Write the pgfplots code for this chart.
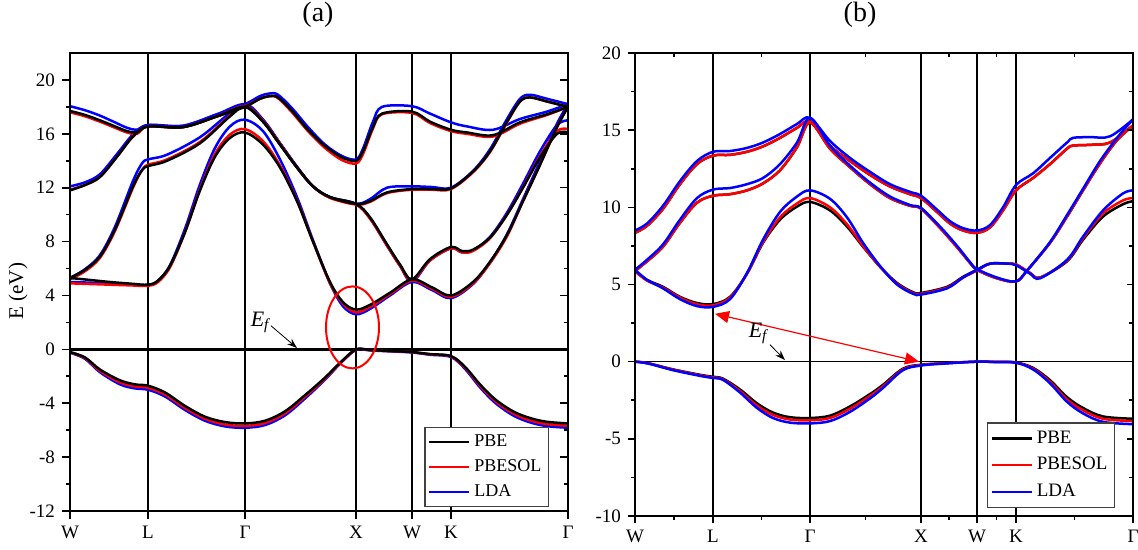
\documentclass[border=0pt]{standalone}
\usepackage{fontspec}
\setmainfont{Liberation Serif}
\usepackage{pgfplots}
\usepackage{pgfplotstable}
\pgfplotsset{compat=1.18}
\usetikzlibrary{arrows.meta}

% ---------- band structure (a): k along W-L-G-X-W-K-G, energies in eV ----------
\pgfplotstableread{
k pbe sol lda
0 -0.20 -0.22 -0.25
15 -0.60 -0.65 -0.70
30 -1.50 -1.60 -1.70
50 -2.30 -2.45 -2.60
65 -2.60 -2.75 -2.90
78 -2.70 -2.85 -3.00
95 -3.20 -3.35 -3.50
115 -4.20 -4.35 -4.50
135 -5.00 -5.15 -5.30
155 -5.40 -5.58 -5.72
175 -5.50 -5.68 -5.82
195 -5.30 -5.47 -5.62
215 -4.60 -4.75 -4.90
235 -3.40 -3.52 -3.65
255 -2.10 -2.18 -2.25
270 -1.00 -1.04 -1.08
286 0.00 -0.02 -0.04
300 -0.05 -0.06 -0.08
320 -0.12 -0.13 -0.15
342 -0.20 -0.21 -0.23
360 -0.35 -0.37 -0.40
381 -0.50 -0.53 -0.57
395 -1.30 -1.36 -1.45
410 -2.60 -2.70 -2.82
425 -3.70 -3.82 -3.96
443 -4.60 -4.75 -4.90
460 -5.10 -5.27 -5.42
477 -5.38 -5.55 -5.70
498 -5.50 -5.67 -5.82
}\bandAa

\pgfplotstableread{
k pbe sol lda
0 5.30 4.90 5.00
20 5.15 4.85 4.95
40 5.00 4.80 4.88
60 4.88 4.75 4.82
78 4.80 4.72 4.78
88 5.10 5.00 5.10
100 6.20 6.10 6.25
115 8.70 8.70 8.95
130 11.80 11.90 12.25
145 14.30 14.50 14.95
160 15.70 15.95 16.55
175 16.10 16.35 17.05
193 15.20 15.45 16.20
210 13.50 13.65 14.10
227 11.00 11.05 11.30
243 8.00 8.00 8.10
260 5.00 4.90 4.90
273 3.50 3.40 3.20
286 2.95 2.75 2.60
300 3.30 3.15 3.00
320 4.20 4.10 4.00
342 5.20 5.10 5.00
362 4.60 4.50 4.40
381 4.00 3.90 3.80
403 5.00 4.90 4.85
420 6.50 6.40 6.45
437 8.50 8.40 8.55
453 11.00 11.00 11.15
470 13.70 13.70 13.95
487 16.50 16.50 16.75
498 18.00 18.00 18.20
}\bandAb

\pgfplotstableread{
k pbe sol lda
0 5.30 5.20 5.30
15 5.90 5.80 5.95
30 6.90 6.80 7.00
45 8.90 8.80 9.10
63 12.10 12.00 12.50
72 13.30 13.30 13.80
78 13.60 13.70 14.10
97 14.00 14.10 14.45
130 15.30 15.40 15.75
160 17.30 17.35 17.55
175 18.00 18.05 18.15
193 16.90 16.95 17.05
210 15.20 15.25 15.30
227 13.50 13.50 13.55
243 12.10 12.10 12.10
260 11.30 11.25 11.30
286 10.80 10.75 10.80
300 9.80 9.70 9.75
317 7.80 7.70 7.70
330 6.30 6.20 6.20
342 5.20 5.10 5.00
360 6.70 6.60 6.60
381 7.60 7.50 7.50
392 7.30 7.20 7.20
403 7.40 7.30 7.35
420 8.30 8.25 8.35
437 10.00 10.00 10.15
453 12.00 12.05 12.30
470 14.25 14.35 14.70
487 16.00 16.20 16.65
498 16.10 16.35 17.00
}\bandAc

\pgfplotstableread{
k pbe sol lda
0 11.80 11.85 12.10
15 12.20 12.20 12.40
30 12.80 12.80 13.00
47 14.30 14.30 14.50
63 15.80 15.80 15.95
78 16.55 16.55 16.65
113 16.50 16.50 16.60
147 17.30 17.30 17.45
175 18.00 18.05 18.20
190 18.60 18.60 18.80
200 18.80 18.80 19.00
208 18.70 18.65 18.90
222 17.70 17.60 17.90
238 16.30 16.20 16.50
255 15.10 14.95 15.20
272 14.25 14.05 14.35
286 14.00 13.80 14.10
293 14.70 14.50 14.90
303 16.50 16.40 16.90
312 17.50 17.45 18.00
342 17.65 17.55 18.05
360 16.90 16.80 17.50
381 16.30 16.20 16.85
397 16.10 16.00 16.55
423 15.90 15.80 16.30
450 16.85 16.75 17.10
477 17.45 17.40 17.65
498 18.00 18.00 18.20
}\bandAd

\pgfplotstableread{
k pbe sol lda
0 17.70 17.60 18.05
15 17.40 17.30 17.75
30 17.00 16.90 17.35
45 16.55 16.45 16.85
57 16.20 16.10 16.45
67 16.10 16.00 16.30
78 16.55 16.55 16.65
113 16.50 16.50 16.60
147 17.30 17.30 17.45
175 18.00 18.05 18.20
193 16.90 16.95 17.05
210 15.20 15.25 15.30
227 13.50 13.50 13.55
243 12.10 12.10 12.10
260 11.30 11.25 11.30
286 10.80 10.75 10.80
300 11.00 10.95 11.15
317 11.65 11.60 12.00
342 11.90 11.85 12.10
362 11.90 11.85 12.05
381 11.95 11.90 12.00
403 13.20 13.15 13.25
420 14.70 14.65 14.85
437 16.90 16.85 17.10
450 18.40 18.40 18.60
460 18.70 18.70 18.90
477 18.40 18.40 18.60
498 18.00 18.00 18.20
}\bandAe

% ---------- band structure (b) ----------
\pgfplotstableread{
k pbe sol lda
0 0.00 0.00 0.00
13 -0.10 -0.10 -0.12
38 -0.50 -0.52 -0.55
65 -0.85 -0.88 -0.92
78 -0.98 -1.02 -1.06
88 -1.10 -1.14 -1.18
105 -1.80 -1.90 -2.00
122 -2.70 -2.85 -3.00
138 -3.30 -3.45 -3.65
155 -3.60 -3.75 -3.95
175 -3.65 -3.80 -4.00
195 -3.50 -3.65 -3.85
215 -2.90 -3.05 -3.25
235 -2.10 -2.22 -2.38
248 -1.50 -1.60 -1.70
268 -0.45 -0.50 -0.55
286 -0.20 -0.22 -0.25
310 -0.10 -0.10 -0.12
342 0.00 0.00 0.00
362 -0.02 -0.02 -0.03
381 -0.05 -0.06 -0.07
398 -0.40 -0.45 -0.50
415 -1.20 -1.30 -1.40
432 -2.30 -2.45 -2.60
448 -3.00 -3.15 -3.35
468 -3.55 -3.70 -3.90
498 -3.70 -3.85 -4.05
}\bandBa

\pgfplotstableread{
k pbe sol lda
0 8.35 8.35 8.50
12 8.80 8.80 8.95
28 9.90 9.90 10.10
45 11.50 11.50 11.70
62 12.80 12.80 13.00
78 13.35 13.35 13.60
95 13.40 13.40 13.65
112 13.60 13.60 13.85
128 13.95 13.95 14.20
145 14.50 14.50 14.75
162 15.15 15.15 15.40
175 15.55 15.55 15.80
195 14.00 14.00 14.30
215 13.00 13.00 13.20
235 12.10 12.10 12.30
255 11.35 11.35 11.50
275 10.85 10.85 11.00
286 10.60 10.60 10.75
302 9.70 9.70 9.85
315 8.95 8.95 9.10
328 8.50 8.50 8.65
342 8.35 8.35 8.50
355 8.70 8.70 8.85
368 9.80 9.80 10.00
381 11.10 11.10 11.45
398 11.90 11.90 12.20
415 12.80 12.80 13.20
432 13.80 13.80 14.20
438 14.00 14.00 14.50
455 14.05 14.05 14.55
475 14.20 14.20 14.60
498 15.30 15.30 15.70
}\bandBb

\pgfplotstableread{
k pbe sol lda
0 5.90 5.85 5.95
12 6.50 6.50 6.60
28 7.45 7.45 7.60
45 9.00 9.00 9.20
62 10.30 10.30 10.60
78 10.75 10.75 11.15
95 10.85 10.85 11.25
112 11.10 11.10 11.50
128 11.55 11.55 11.90
145 12.40 12.40 12.80
162 13.90 13.90 14.20
175 15.50 15.50 15.80
195 13.80 13.80 14.00
215 12.60 12.60 12.70
235 11.50 11.50 11.60
255 10.60 10.60 10.70
275 10.10 10.10 10.15
286 9.95 9.90 9.95
305 8.70 8.65 8.75
322 7.45 7.40 7.50
335 6.40 6.40 6.45
342 5.95 5.95 6.00
362 5.40 5.40 5.45
381 5.20 5.20 5.20
392 5.90 5.90 5.90
415 7.70 7.70 7.75
432 9.40 9.40 9.50
448 11.10 11.10 11.20
465 12.85 12.85 13.00
482 14.35 14.35 14.50
498 15.30 15.30 15.70
}\bandBc

\pgfplotstableread{
k pbe sol lda
0 5.90 5.85 5.95
12 5.30 5.25 5.30
28 4.85 4.80 4.75
45 4.20 4.15 4.05
62 3.80 3.72 3.60
78 3.73 3.65 3.55
95 4.20 4.15 4.05
112 5.70 5.70 5.75
128 7.70 7.75 7.90
145 9.20 9.35 9.70
162 10.05 10.25 10.70
175 10.35 10.60 11.10
195 9.80 10.00 10.55
212 8.75 8.90 9.35
228 7.45 7.50 7.70
245 6.15 6.15 6.20
262 5.10 5.05 5.00
278 4.50 4.45 4.40
286 4.45 4.40 4.35
312 4.85 4.80 4.75
328 5.50 5.45 5.45
342 5.95 5.90 5.95
355 6.35 6.35 6.35
372 6.35 6.35 6.35
381 6.30 6.30 6.25
395 5.75 5.75 5.70
405 5.45 5.45 5.40
432 6.50 6.55 6.60
448 7.90 8.00 8.10
468 9.40 9.60 9.80
488 10.20 10.45 10.90
498 10.40 10.60 11.10
}\bandBd

\pgfplotsset{
  band/.style={smooth, tension=0.55, line width=1.25pt, no markers},
  kpath/.style={
    scale only axis, width=249pt,
    xmin=0, xmax=498,
    xtick={0,78,175,286,342,381,498},
    xticklabels={W,L,Γ,X,W,K,Γ},
    xmajorgrids,
    major grid style={black, line width=0.8pt},
    axis line style={line width=0.8pt},
    every tick/.style={black, line width=0.8pt},
    tick label style={font=\fontsize{9.5}{11}\selectfont},
    legend cell align=left,
    legend image code/.code={\draw[##1, line width=1.25pt] (0pt,0pt) -- (20pt,0pt);},
  },
}

\begin{document}
\begin{tikzpicture}
\useasboundingbox (0,0) rectangle (569pt,275pt);

% ================= panel (a) =================
% LDA and PBEsol first, PBE on top
\begin{axis}[kpath,
  at={(35pt,19.5pt)}, anchor=south west, height=229pt,
  ymin=-12, ymax=22,
  ytick={-12,-8,-4,0,4,8,12,16,20},
  yticklabels={-12,-8,-4,0,4,8,12,16,20},
  minor y tick num=1,
  xtick pos=bottom, ytick pos=left, tick align=outside,
  major tick length=4pt, minor tick length=2pt,
  ylabel={E (eV)},
  ylabel style={at={(rel axis cs:-0.1044,0.48)}, anchor=center, font=\fontsize{10.5}{12}\selectfont},
  reverse legend,
  legend style={at={(rel axis cs:0.962,0.009)}, anchor=south east,
    draw=black!75, line width=0.6pt, font=\fontsize{9}{10.5}\selectfont,
    inner xsep=1.5pt, inner ysep=1.5pt, row sep=1pt},
]
\addplot[black, line width=1.5pt, forget plot] coordinates {(0,0) (498,0)};
\addplot[band, blue] table[x=k, y=lda] {\bandAa};
\addlegendentry{LDA}
\addplot[band, blue, forget plot] table[x=k, y=lda] {\bandAb};
\addplot[band, blue, forget plot] table[x=k, y=lda] {\bandAc};
\addplot[band, blue, forget plot] table[x=k, y=lda] {\bandAd};
\addplot[band, blue, forget plot] table[x=k, y=lda] {\bandAe};
\addplot[band, red] table[x=k, y=sol] {\bandAa};
\addlegendentry{PBESOL}
\addplot[band, red, forget plot] table[x=k, y=sol] {\bandAb};
\addplot[band, red, forget plot] table[x=k, y=sol] {\bandAc};
\addplot[band, red, forget plot] table[x=k, y=sol] {\bandAd};
\addplot[band, red, forget plot] table[x=k, y=sol] {\bandAe};
\addplot[band, black] table[x=k, y=pbe] {\bandAa};
\addlegendentry{PBE}
\addplot[band, black, forget plot] table[x=k, y=pbe] {\bandAb};
\addplot[band, black, forget plot] table[x=k, y=pbe] {\bandAc};
\addplot[band, black, forget plot] table[x=k, y=pbe] {\bandAd};
\addplot[band, black, forget plot] table[x=k, y=pbe] {\bandAe};
% Fermi level marker and the gap at X
\node[font=\fontsize{11}{13}\selectfont] at (axis cs:191,2.0) {\textit{E}\textsubscript{\textit{f}}};
\draw[-{Stealth[length=5pt,width=3.5pt]}, line width=0.4pt] (axis cs:201,1.75) -- (axis cs:227,0.1);
\draw[red, line width=1pt] (axis cs:282.5,1.63) ellipse [x radius=13.25pt, y radius=20.5pt];
\end{axis}
% inward ticks on the right edge of (a)
\begin{axis}[kpath,
  at={(35pt,19.5pt)}, anchor=south west, height=229pt,
  ymin=-12, ymax=22, xmajorgrids=false,
  xtick=\empty, ytick={-12,-8,...,20}, yticklabels={},
  minor y tick num=1, ytick pos=right, tick align=inside,
  major tick length=4pt, minor tick length=2pt,
]
\end{axis}

% ================= panel (b) =================
\begin{axis}[kpath,
  at={(317.5pt,17pt)}, anchor=south west, height=231.5pt,
  ymin=-10, ymax=20,
  ytick={-10,-5,0,5,10,15,20},
  yticklabels={-10,-5,0,5,10,15,20},
  minor y tick num=1,
  minor xtick={39,126.5,230.5,314,361.5,439.5},
  xtick pos=bottom, ytick pos=left, tick align=outside,
  major tick length=3.5pt, minor tick length=2pt,
  legend style={at={(rel axis cs:0.964,0.017)}, anchor=south east,
    draw=black!75, line width=0.6pt, font=\fontsize{9.5}{11.5}\selectfont,
    inner xsep=1.5pt, inner ysep=2pt, row sep=1.5pt},
]
\addplot[black, line width=0.5pt, forget plot] coordinates {(0,0) (498,0)};
\addplot[band, black] table[x=k, y=pbe] {\bandBa};
\addlegendentry{PBE}
\addplot[band, black, forget plot] table[x=k, y=pbe] {\bandBb};
\addplot[band, black, forget plot] table[x=k, y=pbe] {\bandBc};
\addplot[band, black, forget plot] table[x=k, y=pbe] {\bandBd};
\addplot[band, red] table[x=k, y=sol] {\bandBa};
\addlegendentry{PBESOL}
\addplot[band, red, forget plot] table[x=k, y=sol] {\bandBb};
\addplot[band, red, forget plot] table[x=k, y=sol] {\bandBc};
\addplot[band, red, forget plot] table[x=k, y=sol] {\bandBd};
\addplot[band, blue] table[x=k, y=lda] {\bandBa};
\addlegendentry{LDA}
\addplot[band, blue, forget plot] table[x=k, y=lda] {\bandBb};
\addplot[band, blue, forget plot] table[x=k, y=lda] {\bandBc};
\addplot[band, blue, forget plot] table[x=k, y=lda] {\bandBd};
% indirect gap L -> X and Fermi level
\draw[red, line width=0.6pt, {Triangle[length=7pt,width=6pt]}-{Triangle[length=7pt,width=6pt]}]
  (axis cs:80,3.1) -- (axis cs:284,0.0);
\node[font=\fontsize{11}{13}\selectfont] at (axis cs:124,1.85) {\textit{E}\textsubscript{\textit{f}}};
\draw[-{Stealth[length=5pt,width=3.5pt]}, line width=0.4pt] (axis cs:135,1.1) -- (axis cs:150,0.1);
\end{axis}
% inward ticks on the top and right edges of (b)
\begin{axis}[kpath,
  at={(317.5pt,17pt)}, anchor=south west, height=231.5pt,
  ymin=-10, ymax=20, xmajorgrids=false,
  xtick={0,78,175,286,342,381,498}, xticklabels={},
  minor xtick={39,126.5,230.5,314,361.5,439.5},
  ytick={-10,-5,...,20}, yticklabels={},
  minor y tick num=1,
  xtick pos=top, ytick pos=right, tick align=inside,
  major tick length=3pt, minor tick length=2pt,
]
\end{axis}

\node[font=\fontsize{14}{16}\selectfont] at (159pt,267.5pt) {(a)};
\node[font=\fontsize{14}{16}\selectfont] at (430pt,267.5pt) {(b)};
\end{tikzpicture}
\end{document}
